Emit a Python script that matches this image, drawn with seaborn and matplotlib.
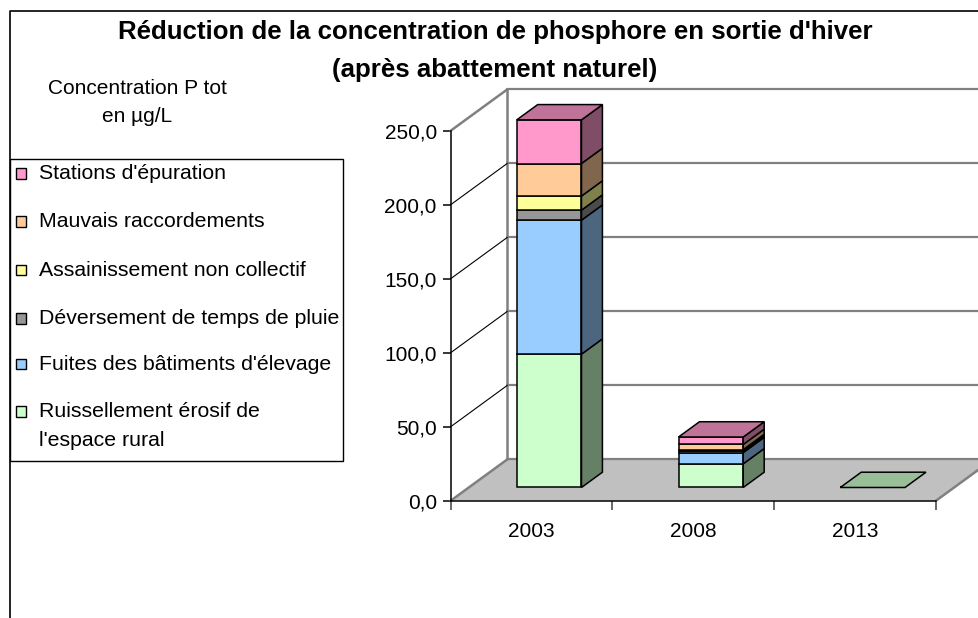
import numpy as np
import matplotlib
matplotlib.use("Agg")
import matplotlib.pyplot as plt
import seaborn as sns
from matplotlib.patches import Polygon, Rectangle
from matplotlib.lines import Line2D
from matplotlib.ticker import FuncFormatter, FixedLocator

# ---------------- data ----------------
years = ["2003", "2008", "2013"]
series_names = [
    "Ruissellement érosif de\nl'espace rural",
    "Fuites des bâtiments d'élevage",
    "Déversement de temps de pluie",
    "Assainissement non collectif",
    "Mauvais raccordements",
    "Stations d'épuration",
]
ruissellement = [90.1, 16.0, 0.0]
fuites = [90.5, 7.6, 0.0]
deversement = [6.8, 1.0, 0.0]
assainissement = [9.5, 1.0, 0.0]
raccordements = [22.0, 3.5, 0.0]
stations = [29.5, 5.0, 0.0]
series_values = [ruissellement, fuites, deversement, assainissement, raccordements, stations]
colors = ["#CCFFCC", "#99CCFF", "#969696", "#FFFF99", "#FFCC99", "#FF99CC"]
y_ticks = [0, 50, 100, 150, 200, 250]

title_line1 = "Réduction de la concentration de phosphore en sortie d'hiver"
title_line2 = "(après abattement naturel)"
ylabel_lines = ["Concentration P tot", "en µg/L"]

# ---------------- style ----------------
W, H = 979, 618
sns.set_theme(style="white")
plt.rcParams['font.family'] = ['Liberation Sans', 'DejaVu Sans']
plt.rcParams['text.color'] = 'black'
plt.rcParams['xtick.color'] = 'black'
plt.rcParams['ytick.color'] = 'black'

fig = plt.figure(figsize=(W / 100, H / 100), dpi=100)
fig.patch.set_facecolor('white')

def fx(x):
    return x / W

def fy(y):
    return 1 - y / H

ax_l, ax_r, ax_t, ax_b = 450.7, 936.0, 130.7, 500.7
ax = fig.add_axes([fx(ax_l), fy(ax_b), (ax_r - ax_l) / W, (ax_b - ax_t) / H])
ax.patch.set_alpha(0)

px_x = (ax_r - ax_l) / 3.0
px_y = (ax_b - ax_t) / 250.0
DX = 56.6 / px_x
DY = 41.3 / px_y

GRAY = "#808080"

# floor
floor = Polygon([(-0.5, 0), (2.5, 0), (2.5 + DX, DY), (-0.5 + DX, DY)],
                closed=True, facecolor="#C0C0C0", edgecolor="none", zorder=0, clip_on=False)
ax.add_patch(floor)
ax.plot([-0.5, -0.5 + DX], [0, DY], color=GRAY, lw=1.8, zorder=1, clip_on=False)
ax.plot([2.5, 2.5 + DX], [0, DY], color=GRAY, lw=1.8, zorder=1, clip_on=False)
# back wall
ax.plot([-0.5 + DX, -0.5 + DX], [DY, 250 + DY], color=GRAY, lw=1.8, zorder=1, clip_on=False)
for t in y_ticks:
    ax.plot([-0.5 + DX, 2.5 + DX], [t + DY, t + DY], color=GRAY, lw=1.6, zorder=1, clip_on=False)
    if 0 < t < 250:
        ax.plot([-0.5, -0.5 + DX], [t, t + DY], color="black", lw=0.8, zorder=1, clip_on=False)
ax.plot([-0.5, -0.5 + DX], [250, 250 + DY], color=GRAY, lw=1.8, zorder=1, clip_on=False)

# ---------------- bars ----------------
base_x = 0.31 * DX
base_y = 0.32 * DY
bar_w = 0.40
ddx = 0.37 * DX
ddy = 0.37 * DY

def shade(c, f):
    r, g, b = matplotlib.colors.to_rgb(c)
    return (r * f, g * f, b * f)

cum = np.zeros(len(years))
top_color = [colors[0]] * len(years)
for vals, c in zip(series_values, colors):
    vals = np.asarray(vals, dtype=float)
    n0 = len(ax.patches)
    sns.barplot(x=years, y=vals, bottom=cum + base_y, color=c, saturation=1,
                width=bar_w, edgecolor="black", linewidth=1.1, errorbar=None,
                ax=ax, zorder=3)
    for p in ax.patches[n0:]:
        p.set_x(p.get_x() + base_x)
        p.set_clip_on(False)
    for i, v in enumerate(vals):
        if v > 0:
            xr = i + base_x + bar_w / 2
            y0 = base_y + cum[i]
            y1 = y0 + v
            ax.add_patch(Polygon([(xr, y0), (xr, y1), (xr + ddx, y1 + ddy), (xr + ddx, y0 + ddy)],
                                 closed=True, facecolor=shade(c, 0.5), edgecolor="black",
                                 lw=1.1, zorder=3, clip_on=False))
            top_color[i] = c
    cum = cum + vals

for i in range(len(years)):
    xl = i + base_x - bar_w / 2
    xr = i + base_x + bar_w / 2
    yt = base_y + cum[i]
    ax.add_patch(Polygon([(xl, yt), (xr, yt), (xr + ddx, yt + ddy), (xl + ddx, yt + ddy)],
                         closed=True, facecolor=shade(top_color[i], 0.75), edgecolor="black",
                         lw=1.1, zorder=4, clip_on=False))

# ---------------- axes ----------------
ax.set_xlim(-0.5, 2.5)
ax.set_ylim(0, 250)
ax.set_xlabel("")
ax.set_ylabel("")
for s in ["top", "right"]:
    ax.spines[s].set_visible(False)
ax.spines["left"].set_color("black")
ax.spines["left"].set_linewidth(1.1)
ax.spines["bottom"].set_color("black")
ax.spines["bottom"].set_linewidth(1.1)
ax.spines["left"].set_zorder(5)
ax.yaxis.set_major_locator(FixedLocator(y_ticks))
ax.yaxis.set_major_formatter(FuncFormatter(lambda v, p: f"{v:.1f}".replace(".", ",")))
ax.tick_params(axis="y", left=True, direction="out", length=6, width=1.1, pad=4, labelsize=15)
ax.xaxis.set_major_locator(FixedLocator([0, 1, 2]))
ax.set_xticklabels(years)
ax.xaxis.set_minor_locator(FixedLocator([-0.5, 0.5, 1.5, 2.5]))
ax.tick_params(axis="x", which="major", bottom=True, length=0, pad=15, labelsize=15)
ax.tick_params(axis="x", which="minor", bottom=True, direction="out", length=6.5, width=1.1, color="#404040")
ax.grid(False)

# ---------------- texts ----------------
fig.text(fx(495), fy(32), title_line1, ha="center", va="center", fontsize=18.6, fontweight="bold")
fig.text(fx(495), fy(70), title_line2, ha="center", va="center", fontsize=18.6, fontweight="bold")
fig.text(fx(137), fy(88), ylabel_lines[0], ha="center", va="center", fontsize=15)
fig.text(fx(137), fy(117), ylabel_lines[1], ha="center", va="center", fontsize=15)

# outer border
fig.add_artist(Line2D([fx(10), fx(10), fx(W + 5)], [fy(H + 5), fy(11), fy(11)],
                      transform=fig.transFigure, color="black", lw=1.2))

# ---------------- legend ----------------
lg_l, lg_t, lg_r, lg_b = 10, 159.5, 342.7, 460.7
fig.add_artist(Rectangle((fx(lg_l), fy(lg_b)), (lg_r - lg_l) / W, (lg_b - lg_t) / H,
                         transform=fig.transFigure, facecolor="none", edgecolor="black", lw=1.0))
legend_y = [411.7, 364.0, 318.3, 270.0, 221.7, 173.3]
sq = 10.5
for name, c, yc in zip(series_names, colors, legend_y):
    fig.add_artist(Rectangle((fx(15.5), fy(yc + sq / 2)), sq / W, sq / H,
                             transform=fig.transFigure, facecolor=c, edgecolor="black", lw=1.0))
    lines = name.split("\n")
    for k, ln in enumerate(lines):
        fig.text(fx(39.3), fy(yc + k * 28.3), ln, ha="left", va="center", fontsize=15.3)

fig.savefig("out.png", dpi=100)
